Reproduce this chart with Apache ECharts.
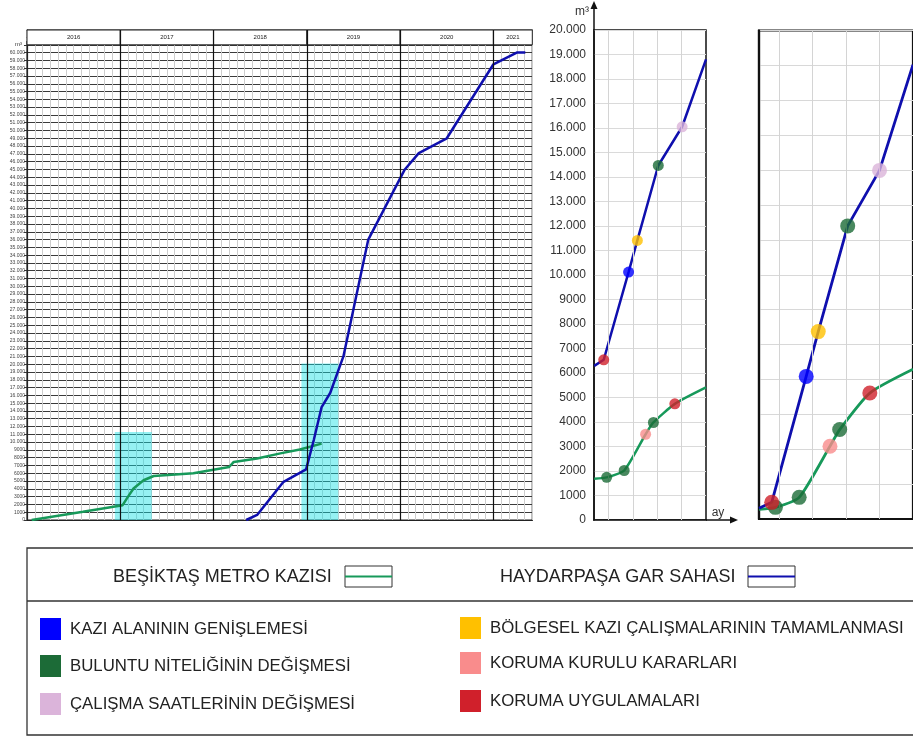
<!DOCTYPE html>
<html><head><meta charset="utf-8">
<script src="https://cdn.jsdelivr.net/npm/echarts@6/dist/echarts.min.js"></script>
<style>html,body{margin:0;padding:0;background:#fff;overflow:hidden}#c{width:913px;height:737px}</style>
</head><body><div id="c"></div>
<script>
// ---------- DATA ----------
// Left overview chart: x = month index since Jan 2016, y = m³
const leftYears = ['2016', '2017', '2018', '2019', '2020', '2021'];
const leftYearStart = [0, 12, 24, 36, 48, 60];
const leftYearEnd = [12, 24, 36, 48, 60, 65];
const leftYearLines = [12, 24, 36, 48, 60];
const leftGreen = [[0.6, 0], [7.2, 1050], [12.3, 1900], [13.0, 3000], [13.7, 4050], [15.0, 5100], [16.3, 5650], [21.4, 6000], [26.0, 6800], [26.6, 7450], [29.6, 7900], [32.6, 8550], [35.1, 9050], [37.9, 9800]];
const leftBlue = [[28.2, 0], [29.6, 650], [33.0, 4900], [35.9, 6500], [36.9, 10300], [37.9, 14500], [39.0, 16300], [40.7, 21000], [43.9, 36000], [48.6, 45000], [50.4, 47100], [54.0, 49000], [60.0, 58500], [63.0, 60000], [64.1, 60000]];
const leftHighlightX0 = [11.3, 35.3];
const leftHighlightX1 = [16.05, 40.05];
const leftHighlightTop = [11300, 20100];

// Event categories
const eventNames = ['KAZI ALANININ GENİŞLEMESİ', 'BULUNTU NİTELİĞİNİN DEĞİŞMESİ', 'ÇALIŞMA SAATLERİNİN DEĞİŞMESİ', 'BÖLGESEL KAZI ÇALIŞMALARININ TAMAMLANMASI', 'KORUMA KURULU KARARLARI', 'KORUMA UYGULAMALARI'];
const eventColors = ['#0000ff', '#1c6b37', '#dbb4da', '#ffc000', '#f98c8c', '#d0202b'];
const seriesNames = ['BEŞİKTAŞ METRO KAZISI', 'HAYDARPAŞA GAR SAHASI'];

// Middle detail chart (m³)
const midBlue = [[-0.59, 6290], [-0.2, 6540], [0.82, 10120], [1.18, 11410], [2.04, 14470], [3.02, 16050], [4.0, 18800]];
const midBlueEvents = [null, 5, 0, 3, 1, 2, null];
const midGreen = [[-0.59, 1680], [-0.08, 1740], [0.64, 2020], [1.52, 3500], [1.84, 3980], [2.72, 4740], [4.0, 5410]];
const midGreenEvents = [null, 1, 1, 4, 1, 5, null];

// Right (normalized) chart
const rightBlue = [[-0.6, 306], [-0.22, 477], [0.81, 4086], [1.17, 5371], [2.05, 8400], [3.0, 9991], [4.0, 13020]];
const rightBlueEvents = [null, 5, 0, 3, 1, 2, null];
const rightGreen = [[-0.6, 277], [-0.11, 334], [0.6, 620], [1.52, 2086], [1.81, 2563], [2.71, 3609], [4.0, 4290]];
const rightGreenEvents = [null, 1, 1, 4, 1, 5, null];

const subGridX = [0, 1, 2, 3];

// ---------- STYLE ----------
const FONT = 'Liberation Sans, Arial, sans-serif';
const GREEN = '#17995a';
const BLUE = '#0f0fae';

function trFmt(v) {
  if (v >= 10000) return String(v).replace(/(\d)(?=(\d{3})+$)/g, '$1.');
  return String(v);
}
function events(pts, ev, size) {
  const out = [];
  pts.forEach((p, i) => {
    if (ev[i] !== null) out.push({ value: p, itemStyle: { color: eventColors[ev[i]] }, symbolSize: size });
  });
  return out;
}
const vGrid = (color) => ({
  silent: true, symbol: ['none', 'none'], label: { show: false },
  lineStyle: { color: color, width: 1, type: 'solid' },
  data: subGridX.map(x => ({ xAxis: x }))
});

const chart = echarts.init(document.getElementById('c'), null, { renderer: 'canvas' });

const option = {
  animation: false,
  backgroundColor: '#fff',
  grid: [
    { left: 27, width: 505.3, top: 30, height: 490, show: true, borderColor: '#222', borderWidth: 1.2, backgroundColor: 'transparent' },
    { left: 594, width: 112, top: 30, height: 490, show: true, borderColor: '#111', borderWidth: 1.5 },
    { left: 759, width: 161, top: 30.5, height: 488.5, show: true, borderColor: '#111', borderWidth: 2.2 }
  ],
  xAxis: [
    { gridIndex: 0, type: 'value', min: 0, max: 65, interval: 1,
      axisLine: { show: true, onZero: false, lineStyle: { color: '#222', width: 1.2 } }, axisTick: { show: false }, axisLabel: { show: false },
      splitLine: { show: true, lineStyle: { color: '#cdcdcd', width: 1 } } },
    { gridIndex: 1, type: 'value', min: -0.6, max: 4,
      axisLine: { show: true, onZero: false, lineStyle: { color: '#111', width: 1.5 } }, axisTick: { show: false }, axisLabel: { show: false }, splitLine: { show: false } },
    { gridIndex: 2, type: 'value', min: -0.6, max: 4,
      axisLine: { show: true, onZero: false, lineStyle: { color: '#111', width: 2.2 } }, axisTick: { show: false }, axisLabel: { show: false }, splitLine: { show: false } }
  ],
  yAxis: [
    { gridIndex: 0, type: 'value', min: 0, max: 62900, interval: 1000,
      axisLine: { show: true, onZero: false, lineStyle: { color: '#222', width: 1.2 } },
      axisTick: { show: true, length: 3, lineStyle: { color: '#333' } },
      axisLabel: { fontSize: 5, color: '#444', margin: 2, fontFamily: FONT, formatter: v => v > 60000 ? '' : trFmt(v) },
      splitLine: { show: true, lineStyle: { color: '#3a3a3a', width: 1 } } },
    { gridIndex: 1, type: 'value', min: 0, max: 20000, interval: 1000,
      axisLine: { show: true, onZero: false, lineStyle: { color: '#111', width: 1.5 } }, axisTick: { show: false },
      axisLabel: { fontSize: 12, color: '#333', margin: 8, fontFamily: FONT, formatter: v => trFmt(v) },
      splitLine: { show: true, lineStyle: { color: '#dadada', width: 1 } } },
    { gridIndex: 2, type: 'value', min: 0, max: 14000, interval: 1000,
      axisLine: { show: true, onZero: false, lineStyle: { color: '#111', width: 2.2 } }, axisTick: { show: false }, axisLabel: { show: false },
      splitLine: { show: true, lineStyle: { color: '#d8d8d8', width: 1 } } }
  ],
  series: [
    // left chart lines
    { name: seriesNames[0], type: 'line', xAxisIndex: 0, yAxisIndex: 0, data: leftGreen, symbol: 'none', z: 3,
      lineStyle: { color: GREEN, width: 2.5 }, itemStyle: { color: GREEN },
      markLine: { silent: true, symbol: ['none', 'none'], label: { show: false }, lineStyle: { color: '#111', width: 1.2, type: 'solid' },
        data: leftYearLines.map(x => ({ xAxis: x })) } },
    { name: seriesNames[1], type: 'line', xAxisIndex: 0, yAxisIndex: 0, data: leftBlue, symbol: 'none', z: 3,
      lineStyle: { color: BLUE, width: 2.5 }, itemStyle: { color: BLUE },
      markArea: { silent: true, z: 4,
        itemStyle: { color: '#fff', borderColor: '#222', borderWidth: 1 },
        label: { show: true, position: 'inside', fontSize: 6, color: '#222', fontFamily: FONT },
        data: leftYears.map((y, i) => [{ name: y, xAxis: leftYearStart[i], yAxis: 61000 }, { xAxis: leftYearEnd[i], yAxis: 62900 }]) } },
    // cyan highlights on top of lines
    { type: 'line', xAxisIndex: 0, yAxisIndex: 0, data: [[0, 0]], symbol: 'none', z: 10, silent: true,
      lineStyle: { width: 0, opacity: 0 },
      markArea: { silent: true,
        itemStyle: { color: 'rgba(20,225,228,0.45)' },
        data: leftHighlightX0.map((x0, i) => [{ xAxis: x0, yAxis: -650 }, { xAxis: leftHighlightX1[i], yAxis: leftHighlightTop[i] }]) } },

    // middle chart
    { type: 'line', xAxisIndex: 1, yAxisIndex: 1, data: midGreen, symbol: 'none', smooth: 0.2, z: 3,
      lineStyle: { color: GREEN, width: 2.5 }, markLine: vGrid('#d4d4d4') },
    { type: 'line', xAxisIndex: 1, yAxisIndex: 1, data: midBlue, symbol: 'none', z: 3,
      lineStyle: { color: BLUE, width: 2.5 } },
    { type: 'scatter', xAxisIndex: 1, yAxisIndex: 1, data: events(midGreen, midGreenEvents, 11), z: 5 },
    { type: 'scatter', xAxisIndex: 1, yAxisIndex: 1, data: events(midBlue, midBlueEvents, 11), z: 5 },

    // right chart
    { type: 'line', xAxisIndex: 2, yAxisIndex: 2, data: rightGreen, symbol: 'none', smooth: 0.2, z: 3,
      lineStyle: { color: GREEN, width: 2.8 }, markLine: vGrid('#d4d4d4') },
    { type: 'line', xAxisIndex: 2, yAxisIndex: 2, data: rightBlue, symbol: 'none', z: 3,
      lineStyle: { color: BLUE, width: 2.8 } },
    { type: 'scatter', xAxisIndex: 2, yAxisIndex: 2, data: events(rightGreen, rightGreenEvents, 15), z: 5 },
    { type: 'scatter', xAxisIndex: 2, yAxisIndex: 2, data: events(rightBlue, rightBlueEvents, 15), z: 5 }
  ],
  graphic: (function () {
    const g = [];
    // hide axis ticks beside the year header row of the left chart
    g.push({ type: 'rect', z: 100, shape: { x: 18, y: 26, width: 8.3, height: 15 }, style: { fill: '#fff' } });
    // left chart unit label
    g.push({ type: 'text', z: 101, style: { text: 'm³', x: 22, y: 44, font: '6px ' + FONT, fill: '#333', textAlign: 'right', verticalAlign: 'middle' } });
    // middle chart axis arrows + labels
    g.push({ type: 'line', shape: { x1: 594, y1: 30, x2: 594, y2: 4 }, style: { stroke: '#111', lineWidth: 1.5 } });
    g.push({ type: 'polygon', shape: { points: [[590.5, 9], [597.5, 9], [594, 1]] }, style: { fill: '#111' } });
    g.push({ type: 'line', shape: { x1: 706, y1: 520, x2: 733, y2: 520 }, style: { stroke: '#111', lineWidth: 1.5 } });
    g.push({ type: 'polygon', shape: { points: [[730, 516.5], [730, 523.5], [738, 520]] }, style: { fill: '#111' } });
    g.push({ type: 'text', style: { text: 'm³', x: 589, y: 12, font: '12px ' + FONT, fill: '#333', textAlign: 'right', verticalAlign: 'middle' } });
    g.push({ type: 'text', style: { text: 'ay', x: 718, y: 513, font: '12px ' + FONT, fill: '#333', textAlign: 'center', verticalAlign: 'middle' } });
    // legend frame
    g.push({ type: 'rect', shape: { x: 27, y: 548, width: 1000, height: 187 }, style: { fill: 'none', stroke: '#333', lineWidth: 1.3 } });
    g.push({ type: 'line', shape: { x1: 27, y1: 601, x2: 1027, y2: 601 }, style: { stroke: '#333', lineWidth: 1.3 } });
    // series legend
    const sx = [113, 500], ix = [345, 748], sc = [GREEN, BLUE];
    seriesNames.forEach((n, i) => {
      g.push({ type: 'text', style: { text: n, x: sx[i], y: 577, font: '18px ' + FONT, fill: '#222', verticalAlign: 'middle' } });
      g.push({ type: 'rect', shape: { x: ix[i], y: 566, width: 47, height: 21 }, style: { fill: '#fff', stroke: '#333', lineWidth: 1 } });
      g.push({ type: 'line', shape: { x1: ix[i], y1: 576.5, x2: ix[i] + 47, y2: 576.5 }, style: { stroke: sc[i], lineWidth: 2 } });
    });
    // event legend
    const ex = [40, 40, 40, 460, 460, 460];
    const ey = [629, 666, 704, 628, 663, 701];
    eventNames.forEach((n, i) => {
      g.push({ type: 'rect', shape: { x: ex[i], y: ey[i] - 11, width: 21, height: 22 }, style: { fill: eventColors[i] } });
      g.push({ type: 'text', style: { text: n, x: ex[i] + 30, y: ey[i], font: '16.8px ' + FONT, fill: '#222', verticalAlign: 'middle' } });
    });
    return g;
  })()
};
chart.setOption(option);
</script>
</body></html>
